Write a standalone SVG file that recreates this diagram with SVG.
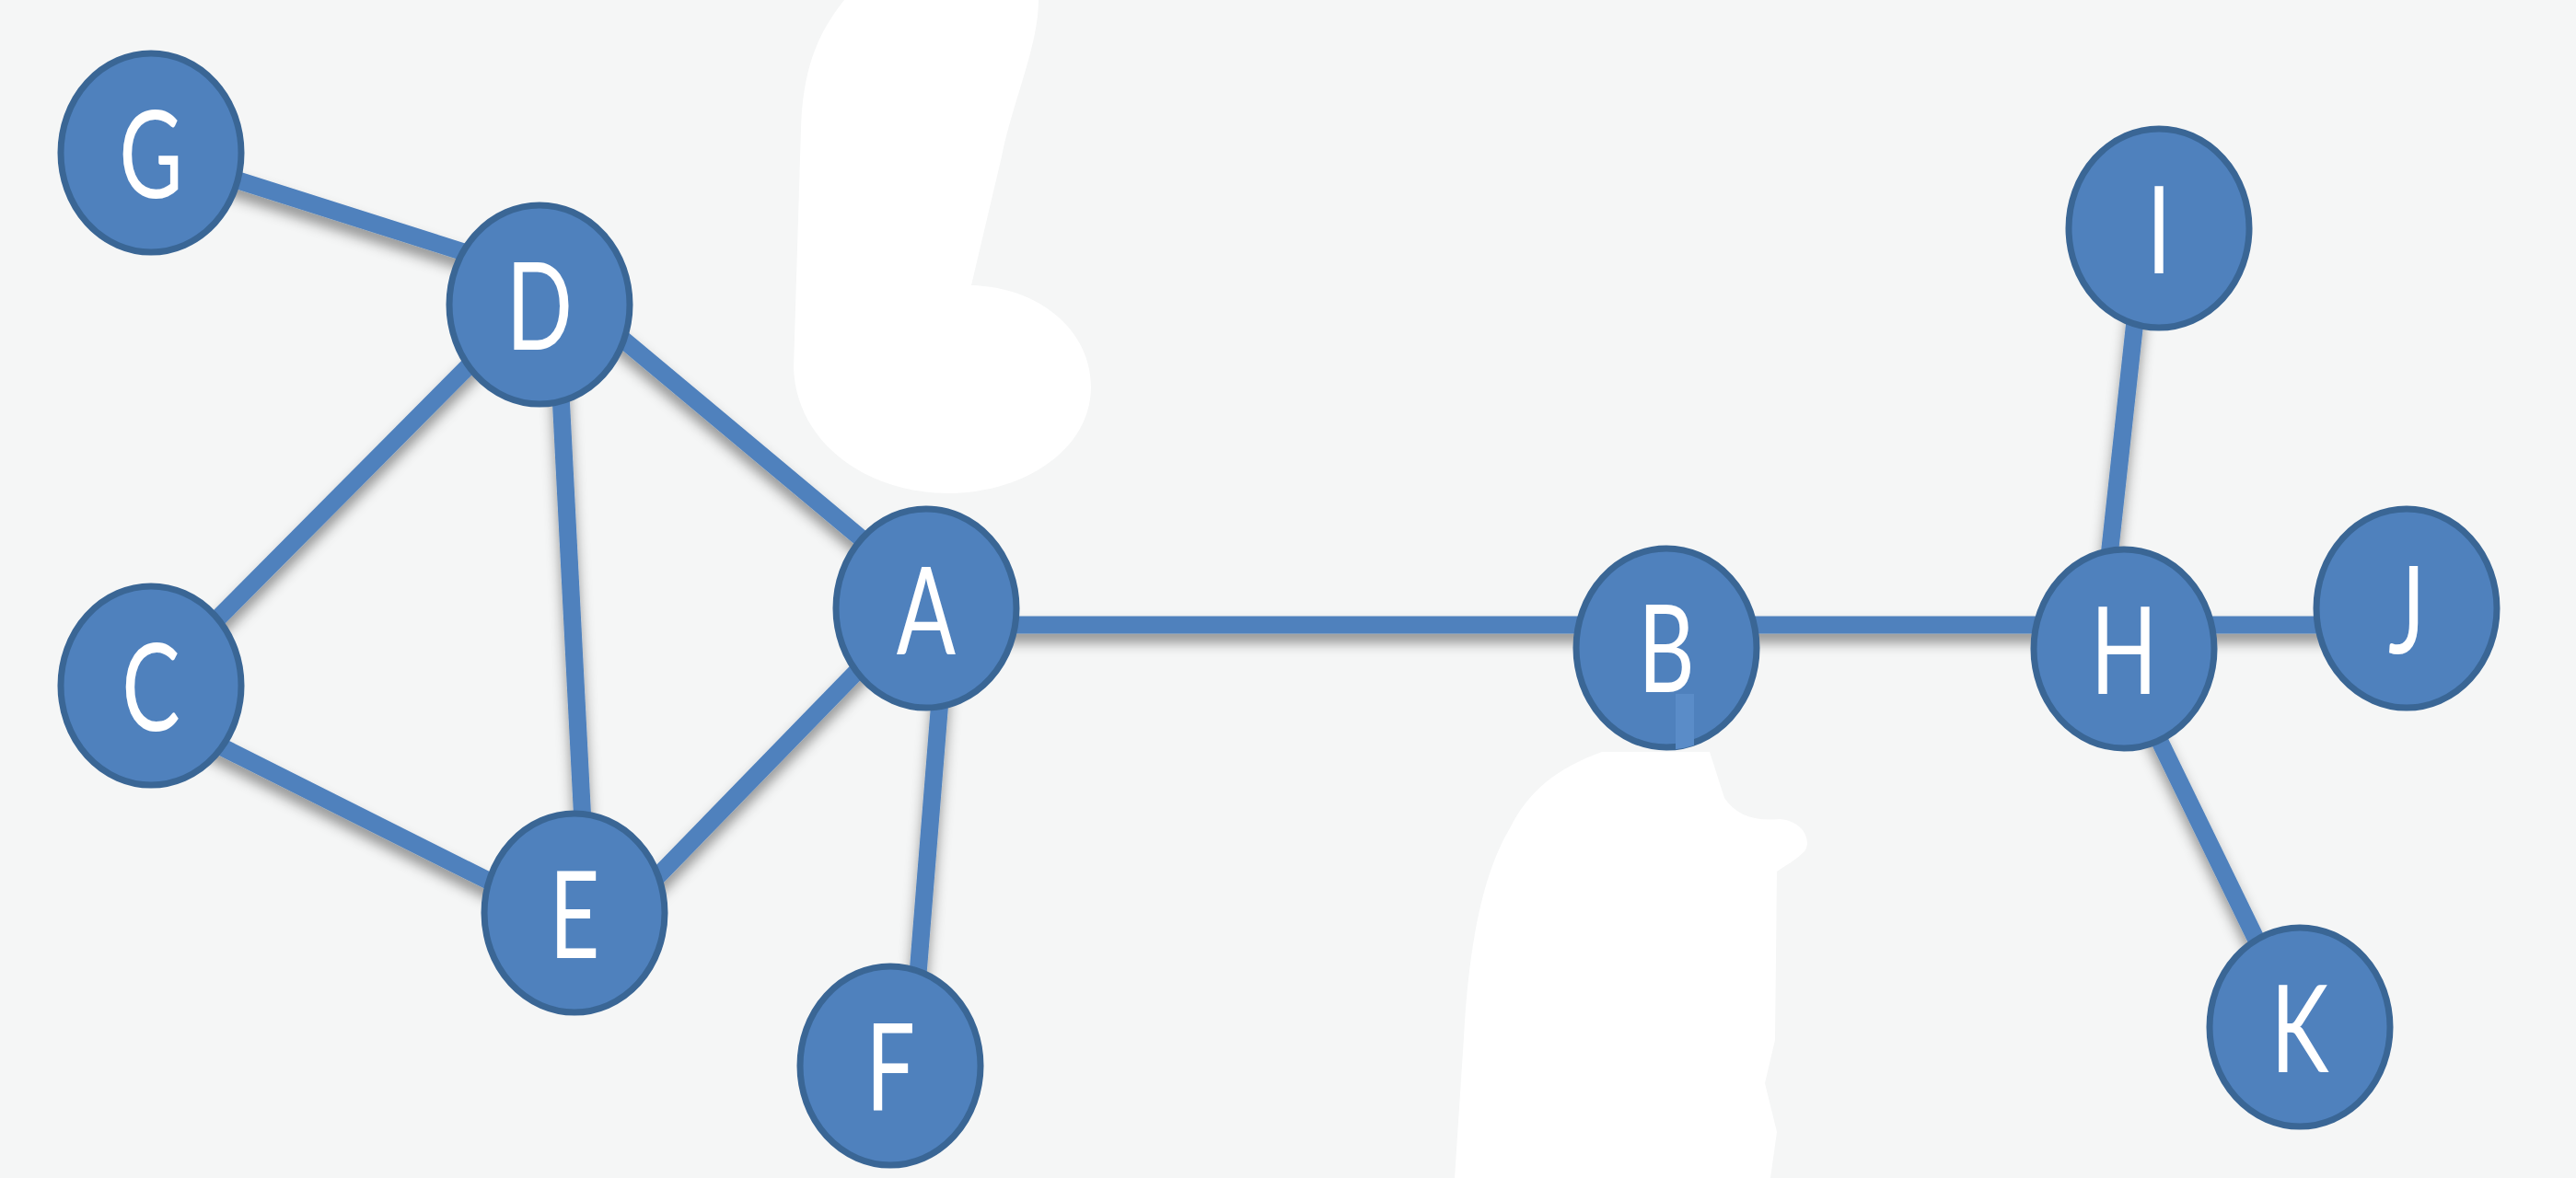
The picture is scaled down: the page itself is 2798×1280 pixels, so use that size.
<svg xmlns="http://www.w3.org/2000/svg" width="2798" height="1280" viewBox="0 0 2798 1280">
<style>
.edge{stroke:#4F81BD;stroke-width:19;stroke-linecap:butt;fill:none}
.node ellipse{fill:#4F81BD;stroke:#3A6695;stroke-width:7}
.node text{fill:#FFFFFF;font-family:Lato,"Open Sans","Liberation Sans",sans-serif;font-weight:400;font-size:132px;text-anchor:middle}
.blob{fill:#FFFFFF}
</style>
<defs>
<filter id="sh" x="-10%" y="-10%" width="120%" height="130%">
<feDropShadow dx="0" dy="10" stdDeviation="7" flood-color="#000000" flood-opacity="0.4"/>
</filter>
<clipPath id="clipB"><ellipse cx="1810" cy="704" rx="101" ry="111"/></clipPath>
</defs>
<rect x="0" y="0" width="2798" height="1280" fill="#F5F6F6"/>
<path class="blob" d="M917,0 L1128,0 C1128,50 1100,110 1088,170 L1055,310 C1130,312 1185,360 1185,420 C1185,490 1110,536 1030,536 C940,536 865,480 862,400 L870,140 C872,80 885,40 917,0 Z"/>
<path class="blob" d="M1740,817 L1857,817 L1873,867 C1885,885 1905,893 1933,890 C1960,892 1968,915 1960,925 C1950,935 1940,940 1930,947 L1928,1130 L1917,1177 L1930,1230 L1923,1280 L1580,1280 L1590,1127 C1595,1030 1610,950 1640,900 C1660,860 1690,835 1740,817 Z"/>
<g id="connectors" filter="url(#sh)">
<line class="edge" x1="164" y1="166" x2="586" y2="300"/>
<line class="edge" x1="164" y1="745" x2="586" y2="320"/>
<line class="edge" x1="604" y1="331" x2="638" y2="992"/>
<line class="edge" x1="586" y1="293" x2="1006" y2="644"/>
<line class="edge" x1="164" y1="773" x2="624" y2="1004"/>
<line class="edge" x1="624" y1="1045" x2="1006" y2="652"/>
<line class="edge" x1="1029" y1="661" x2="989" y2="1158"/>
<line class="edge" x1="1006" y1="679" x2="2614" y2="679"/>
<line class="edge" x1="2330" y1="248" x2="2280" y2="705"/>
<line class="edge" x1="2297" y1="705" x2="2497" y2="1116"/>
</g>
<g id="node-G" class="node"><ellipse cx="164" cy="166" rx="98" ry="108"/><text transform="translate(164,215) scale(0.72,1)">G</text></g>
<g id="node-D" class="node"><ellipse cx="586" cy="331" rx="98" ry="108"/><text transform="translate(586,380) scale(0.72,1)">D</text></g>
<g id="node-C" class="node"><ellipse cx="164" cy="745" rx="98" ry="108"/><text transform="translate(164,794) scale(0.72,1)">C</text></g>
<g id="node-E" class="node"><ellipse cx="624" cy="992" rx="98" ry="108"/><text transform="translate(624,1041) scale(0.72,1)">E</text></g>
<g id="node-A" class="node"><ellipse cx="1006" cy="661" rx="98" ry="108"/><text transform="translate(1006,711) scale(0.72,1)">A</text></g>
<g id="node-F" class="node"><ellipse cx="967" cy="1158" rx="98" ry="108"/><text transform="translate(967,1207) scale(0.72,1)">F</text></g>
<g id="node-B" class="node"><ellipse cx="1810" cy="704" rx="98" ry="108"/><text transform="translate(1810,752) scale(0.72,1)">B</text><rect x="1820" y="754" width="20" height="70" fill="#5A8CC8" clip-path="url(#clipB)"/></g>
<g id="node-H" class="node"><ellipse cx="2307" cy="705" rx="98" ry="108"/><text transform="translate(2307,754) scale(0.72,1)">H</text></g>
<g id="node-I" class="node"><ellipse cx="2345" cy="248" rx="98" ry="108"/><text transform="translate(2345,297) scale(0.72,1)">I</text></g>
<g id="node-J" class="node"><ellipse cx="2614" cy="661" rx="98" ry="108"/><text transform="translate(2614,710) scale(0.72,1)">J</text></g>
<g id="node-K" class="node"><ellipse cx="2498" cy="1116" rx="98" ry="108"/><text transform="translate(2498,1165) scale(0.72,1)">K</text></g>
</svg>
